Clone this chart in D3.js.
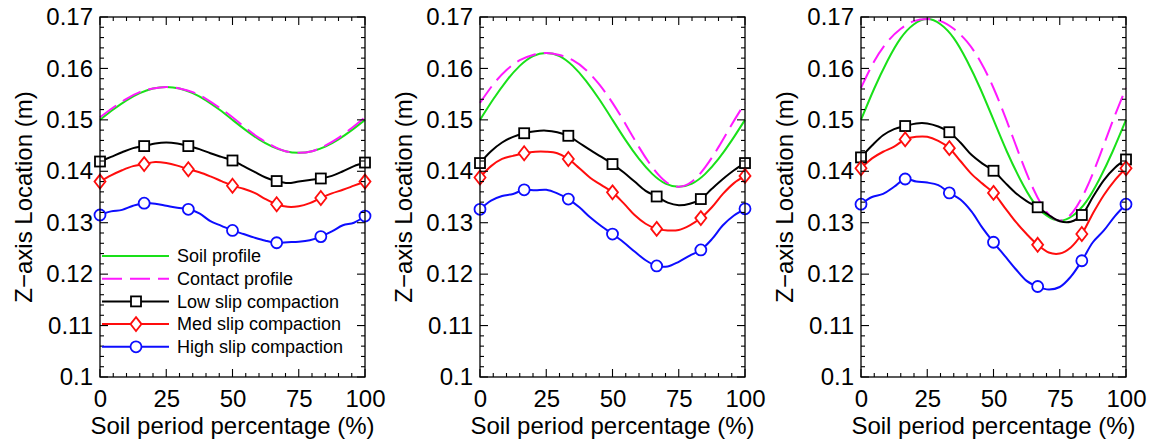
<!DOCTYPE html>
<html><head><meta charset="utf-8">
<script src="https://cdn.jsdelivr.net/npm/d3@7"></script>
<style>body{margin:0;background:#fff} text{font-family:"Liberation Sans",Arial,Helvetica,sans-serif}</style>
</head><body><svg id="c" width="1156" height="444"></svg>
<script>
// ---- data ----
const profileX = [0,5,10,15,20,25,30,35,40,45,50,55,60,65,70,75,80,85,90,95,100];
const soil1    = [0.1500,0.1520,0.1538,0.1552,0.1561,0.1564,0.1561,0.1552,0.1538,0.1520,0.1500,0.1480,0.1462,0.1448,0.1439,0.1436,0.1439,0.1448,0.1462,0.1480,0.1500];
const contact1 = [0.1505,0.1524,0.1541,0.1554,0.1561,0.1564,0.1561,0.1554,0.1541,0.1524,0.1505,0.1484,0.1465,0.1450,0.1439,0.1436,0.1439,0.1450,0.1465,0.1484,0.1505];
const soil2    = [0.1500,0.1540,0.1576,0.1605,0.1624,0.1630,0.1624,0.1605,0.1576,0.1540,0.1500,0.1460,0.1424,0.1395,0.1376,0.1370,0.1376,0.1395,0.1424,0.1460,0.1500];
const contact2 = [0.1533,0.1569,0.1597,0.1616,0.1626,0.1630,0.1626,0.1616,0.1597,0.1569,0.1533,0.1491,0.1447,0.1408,0.1380,0.1370,0.1380,0.1408,0.1447,0.1491,0.1533];
const soil3    = [0.1500,0.1561,0.1615,0.1659,0.1686,0.1696,0.1686,0.1659,0.1615,0.1561,0.1500,0.1439,0.1385,0.1341,0.1314,0.1304,0.1314,0.1341,0.1385,0.1439,0.1500];
const contact3 = [0.1562,0.1614,0.1652,0.1677,0.1692,0.1696,0.1692,0.1677,0.1652,0.1614,0.1562,0.1498,0.1429,0.1366,0.1321,0.1304,0.1321,0.1366,0.1429,0.1498,0.1562];

const slipX = [0,4.167,8.333,12.5,16.667,20.833,25,29.167,33.333,37.5,41.667,45.833,50,54.167,58.333,62.5,66.667,70.833,75,79.167,83.333,87.5,91.667,95.833,100];
const low1  = [0.1419,0.1428,0.1437,0.1445,0.1449,0.1454,0.1456,0.1454,0.1449,0.1443,0.1435,0.1428,0.1421,0.1410,0.1399,0.1388,0.1381,0.1377,0.1380,0.1383,0.1386,0.1391,0.1400,0.1410,0.1417];
const med1  = [0.1380,0.1392,0.1402,0.1410,0.1414,0.1418,0.1416,0.1411,0.1404,0.1398,0.1390,0.1381,0.1372,0.1366,0.1358,0.1346,0.1336,0.1331,0.1332,0.1338,0.1348,0.1357,0.1364,0.1372,0.1380];
const high1 = [0.1315,0.1322,0.1325,0.1333,0.1338,0.1337,0.1333,0.1329,0.1326,0.1318,0.1303,0.1294,0.1285,0.1278,0.1271,0.1265,0.1261,0.1262,0.1263,0.1266,0.1273,0.1283,0.1295,0.1300,0.1313];
const low2  = [0.1416,0.1439,0.1456,0.1467,0.1474,0.1478,0.1479,0.1476,0.1469,0.1455,0.1441,0.1428,0.1414,0.1398,0.1380,0.1362,0.1351,0.1339,0.1334,0.1337,0.1346,0.1366,0.1385,0.1402,0.1416];
const med2  = [0.1388,0.1410,0.1424,0.1430,0.1435,0.1438,0.1438,0.1435,0.1424,0.1406,0.1387,0.1373,0.1359,0.1338,0.1315,0.1298,0.1288,0.1285,0.1286,0.1295,0.1309,0.1330,0.1356,0.1377,0.1391];
const high2 = [0.1326,0.1343,0.1352,0.1356,0.1364,0.1363,0.1364,0.1357,0.1346,0.1330,0.1310,0.1293,0.1278,0.1262,0.1244,0.1227,0.1216,0.1215,0.1224,0.1236,0.1247,0.1268,0.1295,0.1314,0.1327];
const low3  = [0.1427,0.1450,0.1470,0.1482,0.1488,0.1493,0.1493,0.1487,0.1476,0.1456,0.1432,0.1415,0.1401,0.1379,0.1358,0.1342,0.1330,0.1315,0.1303,0.1302,0.1315,0.1350,0.1383,0.1407,0.1423];
const med3  = [0.1406,0.1425,0.1438,0.1448,0.1462,0.1467,0.1467,0.1459,0.1445,0.1420,0.1395,0.1376,0.1358,0.1330,0.1302,0.1278,0.1257,0.1242,0.1240,0.1252,0.1278,0.1318,0.1354,0.1383,0.1406];
const high3 = [0.1336,0.1350,0.1356,0.1370,0.1385,0.1380,0.1378,0.1373,0.1358,0.1345,0.1322,0.1290,0.1262,0.1236,0.1210,0.1187,0.1176,0.1170,0.1175,0.1195,0.1226,0.1262,0.1285,0.1313,0.1336];

const xTicks = [0,25,50,75,100];
const xTickLabels = ["0","25","50","75","100"];
const yTicks = [0.10,0.11,0.12,0.13,0.14,0.15,0.16,0.17];
const yTickLabels = ["0.1","0.11","0.12","0.13","0.14","0.15","0.16","0.17"];
const legendLabels = ["Soil profile","Contact profile","Low slip compaction","Med slip compaction","High slip compaction"];
const xTitle = "Soil period percentage (%)";
const yTitle = "Z\u2212axis Location (m)";

// ---- layout ----
const svg = d3.select("#c");
svg.append("rect").attr("width",1156).attr("height",444).attr("fill","#fff");
const panelLeft = [100, 480, 861];
const plotTop = 17, W = 265, H = 360;
const FONT = "Liberation Sans, Arial, Helvetica, sans-serif";

const x = d3.scaleLinear().domain([0,100]).range([0,W]);
const y = d3.scaleLinear().domain([0.1,0.17]).range([H,0]);

const panels = [
  {soil:soil1, contact:contact1, low:low1, med:med1, high:high1},
  {soil:soil2, contact:contact2, low:low2, med:med2, high:high2},
  {soil:soil3, contact:contact3, low:low3, med:med3, high:high3}
];

const smooth = d3.line().x(d=>x(d[0])).y(d=>y(d[1])).curve(d3.curveNatural);
const wig = d3.line().x(d=>x(d[0])).y(d=>y(d[1])).curve(d3.curveCatmullRom.alpha(0.5));

const styles = {
  soil:{color:"#19e019"}, contact:{color:"#ff19ff"},
  low:{color:"#000000", marker:"square"},
  med:{color:"#ff0d0d", marker:"diamond"},
  high:{color:"#0d0dff", marker:"circle"}
};

function drawMarker(g, type, cx, cy, color){
  if(type==="square"){
    g.append("rect").attr("x",cx-5).attr("y",cy-5).attr("width",10).attr("height",10)
      .attr("fill","#fff").attr("stroke",color).attr("stroke-width",1.8);
  } else if(type==="diamond"){
    g.append("path").attr("d",`M${cx},${cy-7}L${cx+5.5},${cy}L${cx},${cy+7}L${cx-5.5},${cy}Z`)
      .attr("fill","#fff").attr("stroke",color).attr("stroke-width",1.8);
  } else {
    g.append("circle").attr("cx",cx).attr("cy",cy).attr("r",5.5)
      .attr("fill","#fff").attr("stroke",color).attr("stroke-width",1.8);
  }
}

panels.forEach((p,i)=>{
  const g = svg.append("g").attr("transform",`translate(${panelLeft[i]},${plotTop})`);

  // profiles
  g.append("path").attr("d",smooth(profileX.map((v,k)=>[v,p.soil[k]])))
    .attr("fill","none").attr("stroke",styles.soil.color).attr("stroke-width",2);
  g.append("path").attr("d",smooth(profileX.map((v,k)=>[v,p.contact[k]])))
    .attr("fill","none").attr("stroke",styles.contact.color).attr("stroke-width",2)
    .attr("stroke-dasharray","20,8");

  ["low","med","high"].forEach(key=>{
    const data = slipX.map((v,k)=>[v,p[key][k]]);
    g.append("path").attr("d",wig(data)).attr("fill","none")
      .attr("stroke",styles[key].color).attr("stroke-width",2);
  });
  ["low","med","high"].forEach(key=>{
    slipX.forEach((v,k)=>{
      if(k%4===0) drawMarker(g, styles[key].marker, x(v), y(p[key][k]), styles[key].color);
    });
  });

  // ticks (inward) on four sides
  const minorX = d3.range(0,101,5).filter(v=>v%25!==0);
  const minorY = d3.range(100,171,2).map(v=>v/1000).filter(v=>Math.round(v*1000)%10!==0);
  const tickG = g.append("g").attr("stroke","#000").attr("stroke-width",1.1);
  xTicks.forEach(v=>{
    tickG.append("line").attr("x1",x(v)).attr("x2",x(v)).attr("y1",H).attr("y2",H-8);
    tickG.append("line").attr("x1",x(v)).attr("x2",x(v)).attr("y1",0).attr("y2",8);
  });
  minorX.forEach(v=>{
    tickG.append("line").attr("x1",x(v)).attr("x2",x(v)).attr("y1",H).attr("y2",H-4);
    tickG.append("line").attr("x1",x(v)).attr("x2",x(v)).attr("y1",0).attr("y2",4);
  });
  yTicks.forEach(v=>{
    tickG.append("line").attr("x1",0).attr("x2",8).attr("y1",y(v)).attr("y2",y(v));
    tickG.append("line").attr("x1",W).attr("x2",W-8).attr("y1",y(v)).attr("y2",y(v));
  });
  minorY.forEach(v=>{
    tickG.append("line").attr("x1",0).attr("x2",4).attr("y1",y(v)).attr("y2",y(v));
    tickG.append("line").attr("x1",W).attr("x2",W-4).attr("y1",y(v)).attr("y2",y(v));
  });

  g.append("rect").attr("width",W).attr("height",H).attr("fill","none")
    .attr("stroke","#000").attr("stroke-width",1.3);

  // labels via d3 axes
  const ax = g.append("g").attr("transform",`translate(0,${H})`)
    .call(d3.axisBottom(x).tickValues(xTicks).tickSize(0).tickPadding(13)
      .tickFormat((d,k)=>xTickLabels[k]));
  ax.select(".domain").remove();
  ax.attr("font-family",FONT).attr("font-size",24);
  ax.selectAll("text").attr("fill","#000");

  const ay = g.append("g")
    .call(d3.axisLeft(y).tickValues(yTicks).tickSize(0).tickPadding(7)
      .tickFormat((d,k)=>yTickLabels[k]));
  ay.select(".domain").remove();
  ay.attr("font-family",FONT).attr("font-size",24);
  ay.selectAll("text").attr("fill","#000");

  g.append("text").attr("x",W/2).attr("y",H+57).attr("text-anchor","middle")
    .attr("font-size",24).attr("fill","#000").text(xTitle);
  g.append("text").attr("transform",`translate(-68,${H/2}) rotate(-90)`)
    .attr("text-anchor","middle").attr("font-size",24).attr("fill","#000").text(yTitle);

  // legend in first panel
  if(i===0){
    const keys = ["soil","contact","low","med","high"];
    const lg = g.append("g").attr("transform","translate(2,239)");
    keys.forEach((key,k)=>{
      const ry = k*22.7;
      const ln = lg.append("line").attr("x1",0).attr("x2",67).attr("y1",ry).attr("y2",ry)
        .attr("stroke",styles[key].color).attr("stroke-width",2);
      if(key==="contact") ln.attr("stroke-dasharray","20,8");
      if(styles[key].marker) drawMarker(lg, styles[key].marker, 34, ry, styles[key].color);
      lg.append("text").attr("x",75).attr("y",ry).attr("dy","0.35em")
        .attr("font-size",18).attr("fill","#000").text(legendLabels[k]);
    });
  }
});
</script></body></html>
